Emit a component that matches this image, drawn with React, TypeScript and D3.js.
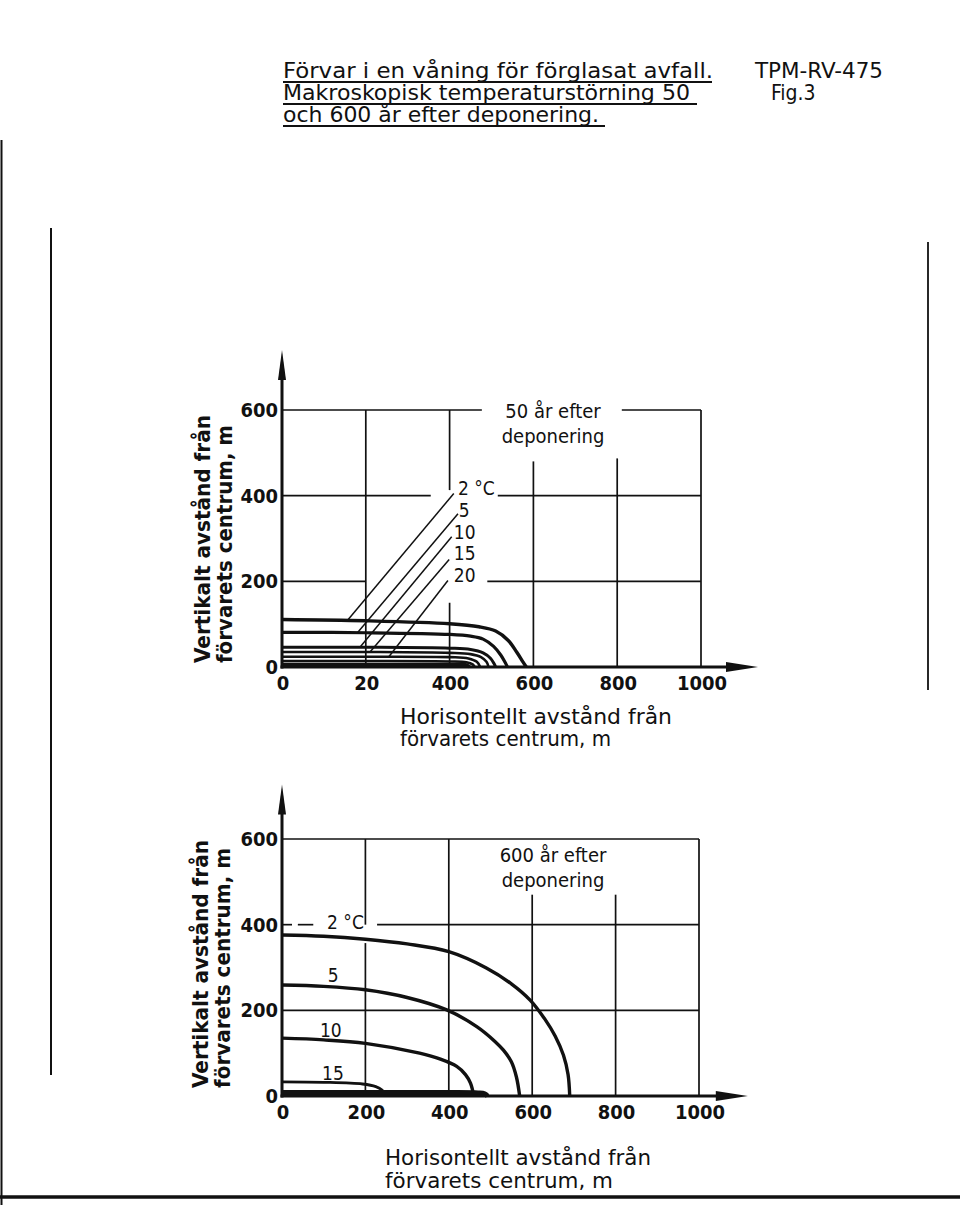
import * as d3 from "d3";

type Pt = [number, number];
type Seg = [number, number, number]; // fixed, from, to (m)

const FONT = "'DejaVu Sans Condensed', 'Liberation Sans Narrow', 'DejaVu Sans', sans-serif";

// axes
const xTicks = [0, 200, 400, 600, 800, 1000];
const yTicks = [0, 200, 400, 600];
const xLabels50 = ["0", "20", "400", "600", "800", "1000"]; // "20" as printed in original
const xLabels600 = ["0", "200", "400", "600", "800", "1000"];
const yLabels = ["0", "200", "400", "600"];

// 50 år efter deponering, isotermer [horisontellt m, vertikalt m]
const temps50 = ["2 °C", "5", "10", "15", "20"];
const iso50_2: Pt[] = [[0, 111], [200, 108], [400, 101], [470, 94], [510, 84], [540, 62], [560, 35], [575, 12], [583, 0]];
const iso50_5: Pt[] = [[0, 81], [200, 80], [400, 76], [450, 72], [480, 65], [505, 48], [522, 28], [533, 10], [538, 0]];
const iso50_10: Pt[] = [[0, 46], [200, 46], [400, 44], [450, 41], [480, 33], [498, 20], [506, 8], [510, 0]];
const iso50_15: Pt[] = [[0, 35], [200, 35], [400, 33], [450, 30], [475, 23], [488, 12], [493, 0]];
const iso50_20: Pt[] = [[0, 24], [200, 24], [400, 23], [445, 20], [465, 12], [473, 0]];
const iso50_extra1: Pt[] = [[0, 14], [200, 14], [400, 13], [440, 11], [455, 6], [460, 0]];
const iso50_extra2: Pt[] = [[0, 6], [200, 6], [400, 6], [440, 5], [448, 0]];

// 600 år efter deponering
const temps600 = ["2 °C", "5", "10", "15"];
const iso600_2: Pt[] = [[0, 376], [100, 373], [200, 366], [300, 355], [400, 337], [490, 299], [550, 262], [595, 224], [630, 180], [655, 140], [675, 95], [686, 50], [690, 0]];
const iso600_5: Pt[] = [[0, 259], [100, 256], [200, 248], [300, 230], [395, 201], [467, 162], [510, 128], [531, 107], [550, 80], [562, 45], [570, 0]];
const iso600_10: Pt[] = [[0, 135], [100, 131], [200, 123], [330, 100], [380, 86], [419, 69], [440, 50], [452, 30], [460, 0]];
const iso600_15: Pt[] = [[0, 33], [100, 32], [193, 28], [225, 22], [240, 14], [247, 5], [250, 0]];
const iso600_20: Pt[] = [[0, 8], [200, 8], [400, 8], [470, 7], [486, 5], [493, 0]];

const panel50 = {
  left: 282, right: 701, bottom: 667, top: 410,
  xArrow: 1136, yArrow: 740,
  xLabels: xLabels50,
  curves: [iso50_2, iso50_5, iso50_10, iso50_15, iso50_20, iso50_extra1, iso50_extra2],
  widths: [3.4, 3.2, 3, 2.6, 2.6, 2.6, 3.5],
  // grid segments with gaps for the text
  hGrid: [[600, 0, 477], [600, 811, 1000], [400, 0, 355], [400, 515, 1000], [200, 0, 200], [200, 490, 1000]] as Seg[],
  vGrid: [[200, 0, 600], [400, 413, 600], [400, 0, 150], [600, 0, 480], [800, 0, 487], [1000, 0, 600]] as Seg[],
  labels: temps50.map((t, i) => ({ text: t, x: [420, 422, 410, 410, 410][i], y: [402, 350, 299, 250, 198][i] })),
  leaders: [
    [[410, 405], [158, 111]],
    [[420, 358], [181, 81]],
    [[405, 304], [186, 46]],
    [[399, 251], [209, 34]],
    [[396, 202], [255, 24]],
  ] as Pt[][],
  heading: ["50 år efter", "deponering"],
  headingX: 553, headingY: [418, 443],
  xTitleX: 400, xTitleY: [724, 746], xTitleLen: [272, 211],
  yTitleX: [210, 232], yTitleStart: 663, yTitleLen: [248, 238],
};

const panel600 = {
  left: 282, right: 699, bottom: 1096, top: 839,
  xArrow: 1117, yArrow: 727,
  xLabels: xLabels600,
  curves: [iso600_2, iso600_5, iso600_10, iso600_15, iso600_20],
  widths: [3.4, 3.4, 3.4, 2.8, 5],
  hGrid: [[600, 0, 1000], [400, 0, 24], [400, 38, 75], [400, 228, 1000], [200, 0, 1000]] as Seg[],
  vGrid: [[200, 0, 357], [200, 400, 600], [400, 0, 600], [600, 0, 470], [800, 0, 470], [1000, 0, 600]] as Seg[],
  labels: temps600.map((t, i) => ({ text: t, x: [108, 110, 91, 96][i], y: [390, 266, 138, 37][i] })),
  leaders: [] as Pt[][],
  heading: ["600 år efter", "deponering"],
  headingX: 553, headingY: [862, 887],
  xTitleX: 385, xTitleY: [1165, 1188], xTitleLen: [266, 228],
  yTitleX: [208, 230], yTitleStart: 1088, yTitleLen: [248, 240],
};

type PanelCfg = typeof panel50;

function Panel({ cfg }: { cfg: PanelCfg }) {
  const x = d3.scaleLinear().domain([0, 1000]).range([cfg.left, cfg.right]);
  const y = d3.scaleLinear().domain([0, 600]).range([cfg.bottom, cfg.top]);
  const line = d3
    .line<Pt>()
    .x((d) => x(d[0]))
    .y((d) => y(d[1]))
    .curve(d3.curveCatmullRom.alpha(0.5));

  const ax = x(0);
  const ay = y(0);
  const yTip = y(cfg.yArrow);
  const xTip = x(cfg.xArrow);

  return (
    <g fontFamily={FONT} fill="#111">
      {/* grid */}
      {cfg.hGrid.map((s, i) => (
        <line key={"h" + i} x1={x(s[1])} x2={x(s[2])} y1={y(s[0])} y2={y(s[0])} stroke="#111" strokeWidth={1.7} />
      ))}
      {cfg.vGrid.map((s, i) => (
        <line key={"v" + i} x1={x(s[0])} x2={x(s[0])} y1={y(s[1])} y2={y(s[2])} stroke="#111" strokeWidth={1.7} />
      ))}

      {/* isotherms */}
      {cfg.curves.map((c, i) => (
        <path key={"c" + i} d={line(c) || ""} fill="none" stroke="#111" strokeWidth={cfg.widths[i]} strokeLinejoin="round" />
      ))}

      {/* leader lines */}
      {cfg.leaders.map((l, i) => (
        <line key={"l" + i} x1={x(l[0][0])} y1={y(l[0][1])} x2={x(l[1][0])} y2={y(l[1][1])} stroke="#111" strokeWidth={1.5} />
      ))}

      {/* axes with arrows */}
      <line x1={ax} x2={ax} y1={ay + 1.5} y2={yTip + 20} stroke="#111" strokeWidth={3} />
      <path d={`M${ax},${yTip} L${ax - 4},${yTip + 30} L${ax + 4},${yTip + 30} Z`} fill="#111" />
      <line x1={ax - 1.5} x2={xTip - 20} y1={ay} y2={ay} stroke="#111" strokeWidth={3} />
      <path d={`M${xTip},${ay} L${xTip - 32},${ay - 5} L${xTip - 32},${ay + 5} Z`} fill="#111" />

      {/* tick labels */}
      {xTicks.map((t, i) => (
        <text key={"xt" + i} x={x(t) + 1} y={ay + 23} textAnchor="middle" fontSize={20} fontWeight="bold">
          {cfg.xLabels[i]}
        </text>
      ))}
      {yTicks.map((t, i) => (
        <text key={"yt" + i} x={ax - 4} y={y(t) + 7} textAnchor="end" fontSize={20} fontWeight="bold">
          {yLabels[i]}
        </text>
      ))}

      {/* temperature labels */}
      {cfg.labels.map((l, i) => (
        <text key={"tl" + i} x={x(l.x)} y={y(l.y)} fontSize={19}>
          {l.text}
        </text>
      ))}

      {/* heading inside plot */}
      {cfg.heading.map((h, i) => (
        <text key={"hd" + i} x={cfg.headingX} y={cfg.headingY[i]} textAnchor="middle" fontSize={20}>
          {h}
        </text>
      ))}

      {/* axis titles */}
      {["Horisontellt avstånd från", "förvarets centrum, m"].map((t, i) => (
        <text key={"xa" + i} x={cfg.xTitleX} y={cfg.xTitleY[i]} fontSize={21} textLength={cfg.xTitleLen[i]} lengthAdjust="spacingAndGlyphs">
          {t}
        </text>
      ))}
      {["Vertikalt avstånd från", "förvarets centrum, m"].map((t, i) => (
        <text
          key={"ya" + i}
          transform={`translate(${cfg.yTitleX[i]},${cfg.yTitleStart}) rotate(-90)`}
          fontSize={21}
          fontWeight="bold"
          textLength={cfg.yTitleLen[i]}
          lengthAdjust="spacingAndGlyphs"
        >
          {t}
        </text>
      ))}
    </g>
  );
}

const titleLines = [
  { text: "Förvar i en våning för förglasat avfall.", x: 283, y: 78, len: 430 },
  { text: "Makroskopisk temperaturstörning 50", x: 283, y: 100, len: 407 },
  { text: "och 600 år efter deponering.", x: 283, y: 122, len: 316 },
];
const titleUnderline = [712, 697, 605];

export default function App() {
  return (
    <svg
      width={960}
      height={1205}
      viewBox="0 0 960 1205"
      style={{ position: "absolute", left: 0, top: 0, background: "#fff" }}
    >
      <rect width={960} height={1205} fill="#fff" />
      <g fontFamily={FONT} fill="#111" fontSize={21}>
        {titleLines.map((t, i) => (
          <g key={"t" + i}>
            <text x={t.x} y={t.y} textLength={t.len} lengthAdjust="spacingAndGlyphs">
              {t.text}
            </text>
            <line x1={t.x} x2={titleUnderline[i]} y1={t.y + 4} y2={t.y + 4} stroke="#111" strokeWidth={1.8} />
          </g>
        ))}
        <text x={755} y={78} textLength={128} lengthAdjust="spacingAndGlyphs">
          TPM-RV-475
        </text>
        <text x={771} y={100}>
          Fig.3
        </text>
      </g>

      {/* page frame remnants from the scan */}
      <line x1={1.5} x2={1.5} y1={140} y2={1205} stroke="#111" strokeWidth={2} />
      <line x1={51} x2={51} y1={228} y2={1075} stroke="#111" strokeWidth={2} />
      <line x1={928} x2={928} y1={242} y2={690} stroke="#111" strokeWidth={1.8} />
      <line x1={0} x2={960} y1={1197} y2={1197} stroke="#111" strokeWidth={3.5} />

      <Panel cfg={panel50} />
      <Panel cfg={panel600} />
    </svg>
  );
}
